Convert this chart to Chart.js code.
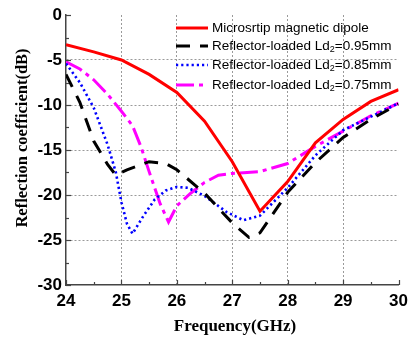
<!DOCTYPE html>
<html><head><meta charset="utf-8">
<script src="https://cdn.jsdelivr.net/npm/chart.js@4.4.0/dist/chart.umd.min.js"></script>
<style>html,body{margin:0;padding:0;background:#fff;}#wrap{width:414px;height:341px;}</style>
</head><body><div id="wrap"><canvas id="c" width="414" height="341"></canvas></div>
<script>
const xTicks = [24,25,26,27,28,29,30];
const yTicks = [0,-5,-10,-15,-20,-25,-30];
const seriesNames = ['Microsrtip magnetic dipole','Reflector-loaded Ld|2|=0.95mm','Reflector-loaded Ld|2|=0.85mm','Reflector-loaded Ld|2|=0.75mm'];

const redX = [24,24.5,25,25.5,26,26.5,27,27.5,28,28.5,29,29.5,30];
const redY = [-3.3,-4.1,-5.0,-6.6,-8.6,-11.8,-16.3,-21.8,-18.5,-14.2,-11.6,-9.6,-8.3];

const blackX = [24,24.25,24.5,24.75,24.9,25.1,25.5,25.8,26,26.5,27,27.3,27.5,28,28.5,29,29.5,30];
const blackY = [-6.6,-9.7,-14.0,-16.6,-17.8,-17.2,-16.3,-16.5,-17.2,-19.8,-23.1,-24.7,-24.2,-19.7,-16.4,-13.6,-11.6,-9.9];

const blueX = [24,24.25,24.5,24.75,24.9,25,25.1,25.2,25.4,25.6,25.8,26,26.2,26.5,26.9,27.2,27.5,28,28.5,29,29.5,30];
const blueY = [-5.4,-7.5,-10.3,-14.4,-17.5,-20.8,-23.2,-24.3,-22.3,-20.5,-19.5,-19.1,-19.2,-20.1,-21.9,-22.8,-22.3,-19.2,-15.6,-12.8,-11.3,-9.8];

const magX = [24,24.25,24.5,24.75,25,25.2,25.35,25.5,25.7,25.85,26,26.25,26.5,26.75,27,27.5,28,28.5,29,29.5,30];
const magY = [-5.2,-6.0,-7.2,-8.8,-10.7,-12.3,-14.6,-17.4,-21.0,-23.0,-21.2,-19.8,-18.6,-17.8,-17.6,-17.4,-16.5,-14.6,-12.9,-11.2,-9.8];

const colors = ['#ff0000','#000000','#0000ff','#ff00ff'];
const dashes = [[],[14,10],[2.2,3],[18,5,4,5]];
const widths = [3,3,2.6,3];

function pts(xs, ys){ return xs.map((x,i)=>({x:x,y:ys[i]})); }
const seriesData = [pts(redX,redY),pts(blackX,blackY),pts(blueX,blueY),pts(magX,magY)];

const datasets = seriesData.map((d,i)=>({
  label: seriesNames[i].replace(/\|/g,''),
  data: d,
  borderColor: colors[i],
  backgroundColor: colors[i],
  borderWidth: widths[i],
  borderDash: dashes[i],
  pointRadius: 0,
  tension: 0,
  fill: false,
  showLine: true
}));

const legendPlugin = {
  id: 'customLegend',
  afterDraw(chart){
    const ctx = chart.ctx;
    const rows = [28,46,65,85];
    ctx.save();
    seriesNames.forEach((name,i)=>{
      const y = rows[i];
      ctx.strokeStyle = colors[i];
      ctx.lineWidth = widths[i];
      ctx.setLineDash(dashes[i]);
      ctx.beginPath(); ctx.moveTo(176,y); ctx.lineTo(208,y); ctx.stroke();
      ctx.setLineDash([]);
      ctx.fillStyle = '#000';
      ctx.textBaseline = 'middle';
      ctx.textAlign = 'left';
      const parts = name.split('|');
      let x = 212;
      parts.forEach((p,k)=>{
        if(k===1){
          ctx.font = '9px "Liberation Sans", Arial, sans-serif';
          ctx.fillText(p,x,y+4);
        } else {
          ctx.font = '13.5px "Liberation Sans", Arial, sans-serif';
          ctx.fillText(p,x,y);
        }
        x += ctx.measureText(p).width;
      });
    });
    ctx.restore();
  }
};

const axisDeco = {
  id: 'axisDeco',
  afterDraw(chart){
    const ctx = chart.ctx;
    const xs = chart.scales.x, ys = chart.scales.y;
    const a = chart.chartArea;
    ctx.save();
    ctx.strokeStyle = '#444';
    ctx.lineWidth = 1.2;
    for(let v=xTicks[0]; v<=xTicks[xTicks.length-1]+1e-9; v+=0.5){
      const px = Math.round(xs.getPixelForValue(v))+0.5;
      const len = (Math.abs(v-Math.round(v))<1e-9)?5:3;
      ctx.beginPath(); ctx.moveTo(px,a.bottom); ctx.lineTo(px,a.bottom-len); ctx.stroke();
    }
    for(let v=yTicks[yTicks.length-1]; v<=yTicks[0]+1e-9; v+=2.5){
      const py = Math.round(ys.getPixelForValue(v))+0.5;
      const len = (Math.abs(v/5-Math.round(v/5))<1e-9)?5:3;
      ctx.beginPath(); ctx.moveTo(a.left,py); ctx.lineTo(a.left+len,py); ctx.stroke();
    }
    ctx.fillStyle = '#000';
    ctx.font = 'bold 17px "Liberation Serif", "Times New Roman", serif';
    ctx.textAlign = 'center';
    ctx.textBaseline = 'middle';
    ctx.fillText('Frequency(GHz)', 235, 327);
    ctx.translate(23,138);
    ctx.rotate(-Math.PI/2);
    ctx.font = 'bold 16.5px "Liberation Serif", "Times New Roman", serif';
    ctx.fillText('Reflection coefficient(dB)', 0, 0);
    ctx.restore();
  }
};

const gridColor = (ctx, ends) => {
  const v = ctx.tick ? ctx.tick.value : null;
  if(v===null || ends.includes(v)) return 'rgba(0,0,0,0)';
  return '#9a9a9a';
};

new Chart(document.getElementById('c'), {
  type: 'scatter',
  data: { datasets: datasets },
  options: {
    responsive: false,
    animation: false,
    devicePixelRatio: 1,
    layout: { padding: { top: 15, right: 14, left: 0, bottom: 0 } },
    plugins: { legend: { display: false }, tooltip: { enabled: false } },
    scales: {
      x: {
        type: 'linear', min: 24, max: 30,
        afterFit(s){ s.height = 56; },
        afterBuildTicks(s){ s.ticks = xTicks.map(v=>({value:v})); },
        ticks: { color: '#000', padding: 6,
          font: { family: '"Liberation Sans", Arial, sans-serif', size: 17, weight: 'bold' },
          callback: v => String(v) },
        grid: { color: c => gridColor(c,[24,30]), lineWidth: 1, drawTicks: false, tickLength: 0 },
        border: { display: true, color: '#444', width: 1.5, dash: [2,2] }
      },
      y: {
        type: 'linear', min: -30, max: 0,
        afterFit(s){ s.width = 66; },
        afterBuildTicks(s){ s.ticks = yTicks.slice().reverse().map(v=>({value:v})); },
        ticks: { color: '#000', padding: 4,
          font: { family: '"Liberation Sans", Arial, sans-serif', size: 17, weight: 'bold' },
          callback: v => String(v) },
        grid: { color: c => gridColor(c,[0,-30]), lineWidth: 1, drawTicks: false, tickLength: 0 },
        border: { display: true, color: '#444', width: 1.5, dash: [2,2] }
      }
    }
  },
  plugins: [legendPlugin, axisDeco]
});
</script>
</body></html>
